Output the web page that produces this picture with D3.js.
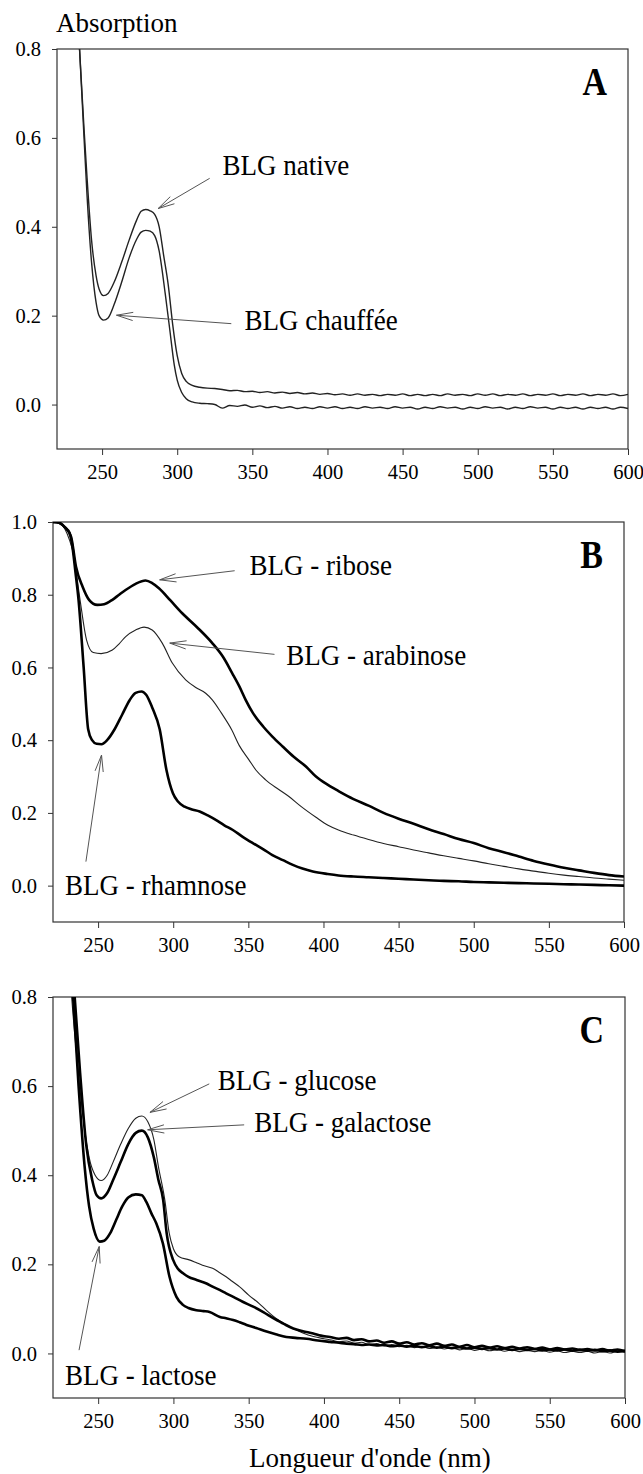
<!DOCTYPE html>
<html><head><meta charset="utf-8">
<script src="https://cdn.jsdelivr.net/npm/d3@7/dist/d3.min.js"></script>
<style>html,body{margin:0;padding:0;background:#fff;}</style>
</head>
<body><svg id="chart" width="643" height="1474"></svg>
<script>
// ---------- DATA (wavelength nm, absorbance) ----------
const xTicks = [250,300,350,400,450,500,550,600];
const yTicksA = [0,0.2,0.4,0.6,0.8];
const yTicksB = [0,0.2,0.4,0.6,0.8,1.0];
const yTicksC = [0,0.2,0.4,0.6,0.8];

// Panel A
const nativeA = [[222,1.6],[228,1.2],[232,0.98],[235,0.80],[238,0.62],[240,0.51],[243,0.37],[246,0.29],[248,0.26],[251,0.245],[254,0.25],[258,0.275],[263,0.32],[268,0.37],[273,0.415],[276,0.435],[279,0.439],[282,0.436],[285,0.428],[288,0.40],[291,0.335],[294,0.27],[297,0.18],[300,0.11],[303,0.07],[306,0.052],[310,0.043],[315,0.039],[320,0.037],[325,0.036],[330,0.034],[335,0.031],[340,0.032],[345,0.029],[350,0.030],[355,0.027],[360,0.029],[365,0.026],[370,0.028],[375,0.025],[380,0.027],[385,0.024],[390,0.026],[395,0.023],[400,0.025],[405,0.022],[410,0.024],[415,0.021],[420,0.024],[425,0.021],[430,0.023],[435,0.020],[440,0.023],[445,0.021],[450,0.024],[455,0.020],[460,0.023],[465,0.020],[470,0.023],[475,0.020],[480,0.024],[485,0.021],[490,0.023],[495,0.020],[500,0.024],[505,0.021],[510,0.024],[515,0.020],[520,0.023],[525,0.021],[530,0.024],[535,0.020],[540,0.023],[545,0.021],[550,0.024],[555,0.020],[560,0.023],[565,0.021],[570,0.024],[575,0.020],[580,0.023],[585,0.021],[590,0.024],[595,0.020],[600,0.023]];
const chauffeeA = [[222,1.6],[228,1.2],[232,0.98],[235,0.80],[238,0.60],[240,0.47],[243,0.32],[246,0.23],[248,0.20],[251,0.19],[254,0.195],[258,0.225],[263,0.275],[268,0.33],[273,0.372],[276,0.388],[279,0.392],[282,0.39],[285,0.38],[288,0.345],[292,0.25],[295,0.17],[298,0.09],[300,0.055],[303,0.027],[306,0.013],[310,0.006],[315,0.003],[320,0.002],[325,0.000],[330,-0.008],[335,-0.002],[340,-0.004],[345,-0.001],[350,-0.006],[355,-0.003],[360,-0.007],[365,-0.004],[370,-0.008],[375,-0.005],[380,-0.009],[385,-0.006],[390,-0.009],[395,-0.005],[400,-0.008],[405,-0.005],[410,-0.009],[415,-0.006],[420,-0.009],[425,-0.005],[430,-0.008],[435,-0.006],[440,-0.009],[445,-0.005],[450,-0.008],[455,-0.006],[460,-0.010],[465,-0.006],[470,-0.009],[475,-0.005],[480,-0.008],[485,-0.006],[490,-0.010],[495,-0.006],[500,-0.009],[505,-0.005],[510,-0.008],[515,-0.006],[520,-0.010],[525,-0.006],[530,-0.009],[535,-0.005],[540,-0.008],[545,-0.006],[550,-0.010],[555,-0.006],[560,-0.009],[565,-0.006],[570,-0.010],[575,-0.006],[580,-0.009],[585,-0.006],[590,-0.010],[595,-0.006],[600,-0.009]];

// Panel B
const riboseB = [[220,1.0],[224,0.998],[228,0.985],[232,0.96],[235.3,0.877],[239.7,0.822],[244,0.786],[249.5,0.772],[254,0.774],[259.5,0.786],[264,0.80],[268.3,0.813],[275,0.83],[281.6,0.839],[286,0.832],[290.5,0.818],[298,0.785],[306,0.749],[316,0.71],[326,0.667],[333,0.63],[339.3,0.584],[344,0.548],[348.2,0.511],[353,0.475],[360,0.437],[366,0.41],[373,0.382],[380,0.355],[388.5,0.327],[395,0.30],[403,0.277],[410,0.26],[420,0.238],[430,0.22],[440,0.20],[450,0.184],[460,0.17],[470,0.155],[480,0.142],[490,0.128],[500,0.117],[510,0.103],[520,0.092],[530,0.08],[540,0.068],[550,0.058],[560,0.049],[570,0.042],[580,0.035],[590,0.029],[600,0.025]];
const arabinoseB = [[220,1.0],[224,0.998],[228,0.98],[231,0.95],[233.5,0.914],[238,0.786],[242.3,0.676],[246.8,0.641],[252,0.638],[259.5,0.648],[264,0.665],[268.4,0.685],[275,0.703],[280.6,0.711],[286,0.703],[292.7,0.667],[299.4,0.612],[308.3,0.566],[315,0.545],[321.6,0.529],[326,0.511],[332,0.475],[339,0.428],[344,0.385],[350.4,0.346],[355,0.318],[361.5,0.291],[370,0.265],[377,0.245],[385,0.218],[395,0.188],[403,0.166],[410,0.153],[420,0.139],[430,0.127],[440,0.116],[450,0.107],[460,0.098],[470,0.09],[480,0.082],[490,0.075],[500,0.068],[510,0.06],[520,0.053],[530,0.046],[540,0.04],[550,0.034],[560,0.029],[570,0.025],[580,0.021],[590,0.018],[600,0.015]];
const rhamnoseB = [[220,1.0],[224,0.998],[228,0.985],[231,0.97],[233,0.93],[235,0.86],[237,0.786],[240.4,0.60],[243.4,0.43],[246,0.40],[249,0.39],[252.3,0.389],[256,0.40],[261,0.43],[266,0.47],[271,0.51],[275,0.53],[278.9,0.534],[282,0.525],[286,0.49],[291,0.43],[295.5,0.318],[299.8,0.254],[303,0.232],[307.6,0.217],[312,0.21],[317.6,0.204],[323,0.193],[328.6,0.18],[334,0.166],[339.7,0.153],[346,0.135],[353,0.117],[360,0.10],[366,0.084],[373,0.07],[379.6,0.057],[386,0.047],[392.9,0.039],[402.8,0.032],[410,0.028],[420,0.025],[430,0.023],[440,0.021],[450,0.019],[460,0.017],[470,0.015],[480,0.013],[490,0.012],[500,0.010],[510,0.009],[520,0.008],[530,0.007],[540,0.006],[550,0.005],[560,0.004],[570,0.003],[580,0.002],[590,0.001],[600,0.0]];

// Panel C
const glucoseC = [[222,1.6],[226,1.25],[229,1.0],[232,0.82],[236,0.66],[240,0.53],[244,0.44],[248,0.40],[252,0.388],[256,0.40],[260,0.43],[265,0.47],[270,0.505],[275,0.528],[279,0.533],[283,0.52],[287,0.48],[290,0.42],[294.3,0.344],[297.2,0.27],[300,0.235],[303.8,0.217],[310.5,0.21],[315,0.204],[319.3,0.198],[326,0.191],[330,0.183],[335,0.172],[339,0.162],[343.8,0.15],[350,0.131],[357,0.112],[362,0.096],[368,0.079],[374,0.066],[379.6,0.056],[386,0.046],[393,0.038],[400,0.033],[405,0.030],[410,0.026],[415,0.028],[420,0.023],[425,0.025],[430,0.020],[435,0.022],[440,0.017],[445,0.020],[450,0.015],[455,0.018],[460,0.013],[465,0.016],[470,0.011],[475,0.014],[480,0.010],[485,0.013],[490,0.008],[495,0.012],[500,0.007],[505,0.010],[510,0.006],[515,0.009],[520,0.005],[525,0.008],[530,0.004],[535,0.007],[540,0.004],[545,0.007],[550,0.003],[555,0.006],[560,0.002],[565,0.005],[570,0.002],[575,0.005],[580,0.001],[585,0.004],[590,0.001],[595,0.005],[600,0.002]];
const galactoseC = [[222,1.6],[226,1.3],[230,1.02],[234,0.82],[238,0.63],[242,0.47],[246,0.39],[249,0.355],[252,0.348],[256,0.36],[260,0.39],[265,0.43],[270,0.47],[275,0.495],[279,0.50],[283,0.485],[287,0.44],[290,0.39],[293.2,0.344],[295.5,0.27],[299.8,0.21],[303,0.19],[306.4,0.18],[310,0.172],[315.4,0.165],[322,0.157],[326,0.15],[331,0.142],[335,0.135],[339.8,0.127],[346,0.116],[353,0.105],[360,0.092],[366.3,0.079],[373,0.067],[379.6,0.056],[386,0.05],[392.9,0.045],[398,0.04],[404,0.037],[410,0.033],[415,0.035],[420,0.030],[425,0.032],[430,0.027],[435,0.029],[440,0.024],[445,0.027],[450,0.022],[455,0.025],[460,0.020],[465,0.023],[470,0.018],[475,0.022],[480,0.017],[485,0.020],[490,0.015],[495,0.019],[500,0.014],[505,0.017],[510,0.013],[515,0.016],[520,0.012],[525,0.015],[530,0.011],[535,0.014],[540,0.010],[545,0.013],[550,0.009],[555,0.012],[560,0.009],[565,0.011],[570,0.008],[575,0.010],[580,0.007],[585,0.010],[590,0.006],[595,0.009],[600,0.005]];
const lactoseC = [[222,1.5],[226,1.2],[230,0.95],[233,0.82],[237,0.60],[241,0.42],[244,0.33],[247,0.28],[251,0.251],[254,0.253],[258,0.27],[262,0.30],[266,0.33],[270,0.35],[275,0.357],[279,0.355],[282,0.34],[285.3,0.315],[288.6,0.292],[293,0.247],[297.4,0.172],[302,0.127],[306.3,0.109],[310,0.102],[315.2,0.097],[320,0.095],[324,0.093],[330.9,0.082],[335,0.079],[339.7,0.075],[344,0.07],[348.6,0.064],[355,0.057],[361.9,0.049],[368,0.043],[375,0.037],[381,0.035],[388.5,0.033],[396,0.029],[404,0.026],[410,0.024],[415,0.022],[420,0.021],[425,0.019],[430,0.020],[435,0.018],[440,0.019],[445,0.016],[450,0.018],[455,0.015],[460,0.017],[465,0.014],[470,0.016],[475,0.013],[480,0.015],[485,0.012],[490,0.014],[495,0.011],[500,0.013],[505,0.010],[510,0.012],[515,0.009],[520,0.011],[525,0.008],[530,0.010],[535,0.008],[540,0.010],[545,0.007],[550,0.009],[555,0.007],[560,0.009],[565,0.006],[570,0.008],[575,0.006],[580,0.008],[585,0.005],[590,0.007],[595,0.004],[600,0.006]];

// ---------- LAYOUT ----------
const FONT = 'Liberation Serif';
const svg = d3.select("#chart");
const xDomain = [220, 600];

const panels = [
  {letter:"A", left:57, right:628, top:49, bottom:449, yDomain:[-0.1,0.8], yTicks:yTicksA,
   series:[{d:nativeA,w:1.4,c:"#222"},{d:chauffeeA,w:1.4,c:"#222"}],
   notes:[{t:"BLG native", tx:330.2, ty:0.516, from:[321.6,0.509], to:[287.3,0.441]},
          {t:"BLG chauffée", tx:344.8, ty:0.167, from:[336,0.182], to:[259.6,0.201]}]},
  {letter:"B", left:53, right:624, top:522, bottom:922, yDomain:[-0.1,1.0], yTicks:yTicksB,
   series:[{d:riboseB,w:2.6,c:"#000"},{d:arabinoseB,w:1.1,c:"#222"},{d:rhamnoseB,w:2.6,c:"#000"}],
   notes:[{t:"BLG - ribose", tx:350.8, ty:0.855, from:[340.9,0.866], to:[291,0.841]},
          {t:"BLG - arabinose", tx:375.2, ty:0.607, from:[367.4,0.636], to:[297.7,0.667]},
          {t:"BLG - rhamnose", tx:228, ty:-0.026, from:[241.9,0.066], to:[252.3,0.359]}]},
  {letter:"C", left:53, right:625, top:997, bottom:1398, yDomain:[-0.1,0.8], yTicks:yTicksC,
   series:[{d:glucoseC,w:1.1,c:"#222"},{d:galactoseC,w:2.6,c:"#000"},{d:lactoseC,w:2.6,c:"#000"}],
   notes:[{t:"BLG - glucose", tx:329.4, ty:0.592, from:[323.8,0.605], to:[284.4,0.541]},
          {t:"BLG - galactose", tx:353.7, ty:0.498, from:[347,0.513], to:[282.9,0.502]},
          {t:"BLG - lactose", tx:228, ty:-0.071, from:[237.3,0.0074], to:[250.7,0.24]}]}
];

function arrow(g, x1, y1, x2, y2) {
  const col = "#555";
  g.append("line").attr("x1",x1).attr("y1",y1).attr("x2",x2).attr("y2",y2)
    .attr("stroke",col).attr("stroke-width",1);
  const ang = Math.atan2(y1 - y2, x1 - x2);
  const L = 17, a = 14 * Math.PI/180;
  [ -a, a ].forEach(da => {
    g.append("line").attr("x1",x2).attr("y1",y2)
      .attr("x2", x2 + L*Math.cos(ang+da)).attr("y2", y2 + L*Math.sin(ang+da))
      .attr("stroke",col).attr("stroke-width",1);
  });
}

// text placed at (x,y) baseline, optionally stretched vertically
function label(parent, x, y, s, size, opts) {
  opts = opts || {};
  const sy = opts.sy || 1;
  return parent.append("text")
    .attr("transform", `translate(${x},${y}) scale(1,${sy})`)
    .attr("font-family", FONT).attr("font-size", size)
    .attr("font-weight", opts.weight || "normal")
    .attr("text-anchor", opts.anchor || "start")
    .attr("fill", "#000").text(s);
}

panels.forEach((p, i) => {
  const x = d3.scaleLinear().domain(xDomain).range([p.left, p.right]);
  const y = d3.scaleLinear().domain(p.yDomain).range([p.bottom, p.top]);
  const g = svg.append("g");
  const clipId = "clip" + i;
  svg.append("defs").append("clipPath").attr("id", clipId)
    .append("rect").attr("x",p.left).attr("y",p.top)
    .attr("width",p.right-p.left).attr("height",p.bottom-p.top);

  g.append("rect").attr("x",p.left).attr("y",p.top)
    .attr("width",p.right-p.left).attr("height",p.bottom-p.top)
    .attr("fill","none").attr("stroke","#333").attr("stroke-width",1.2);

  const xa = g.append("g").attr("transform",`translate(0,${p.bottom})`)
    .call(d3.axisBottom(x).tickValues(xTicks).tickSize(6).tickPadding(9).tickFormat(d3.format("d")));
  const ya = g.append("g").attr("transform",`translate(${p.left},0)`)
    .call(d3.axisLeft(y).tickValues(p.yTicks).tickSize(5).tickPadding(11).tickFormat(d3.format(".1f")));
  [xa, ya].forEach(a => {
    a.attr("font-family", FONT).attr("font-size", 20.5);
    a.select(".domain").remove();
    a.selectAll(".tick line").attr("stroke","#333");
    a.selectAll(".tick text").attr("fill", "#000");
  });

  const line = d3.line().x(d => x(d[0])).y(d => y(d[1])).curve(d3.curveMonotoneX);
  const lg = g.append("g").attr("clip-path",`url(#${clipId})`);
  p.series.forEach(s => {
    lg.append("path").datum(s.d).attr("d", line)
      .attr("fill","none").attr("stroke",s.c).attr("stroke-width",s.w)
      .attr("stroke-linejoin","round");
  });

  p.notes.forEach(n => {
    arrow(g, x(n.from[0]), y(n.from[1]), x(n.to[0]), y(n.to[1]));
    label(g, x(n.tx), y(n.ty), n.t, 27, {sy:1.1});
  });

  label(g, p.right - 21, p.top + 46, p.letter, 34, {weight:"bold", anchor:"end", sy:1.18});
});

label(svg, 56, 32, "Absorption", 27);
label(svg, 249, 1467, "Longueur d'onde (nm)", 27, {sy:1.05});
</script>
</body></html>
